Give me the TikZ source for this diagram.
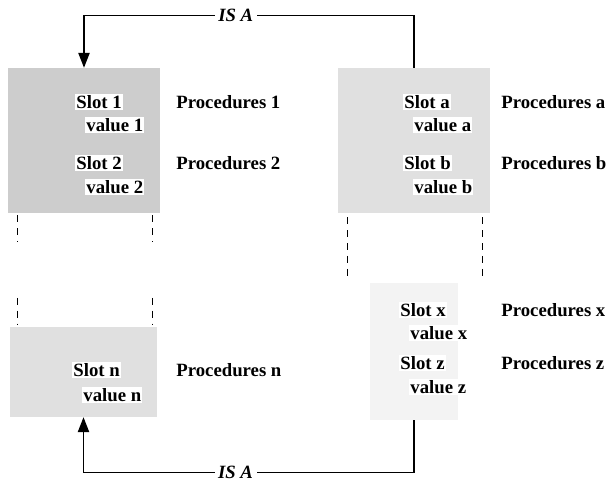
\documentclass[tikz,border=0pt]{standalone}
\usepackage{fontspec}
\setmainfont{Liberation Serif}
\usepackage{tikz}
\usetikzlibrary{arrows.meta,positioning,calc}
\definecolor{shadedark}{RGB}{205,205,205}
\definecolor{shademid}{RGB}{224,224,224}
\definecolor{shadelight}{RGB}{243,243,243}
\tikzset{
    frame/.style={
        rectangle,
        draw=none,
        inner sep=0pt
    },
    slottext/.style={
        anchor=west,
        fill=white,
        inner sep=1pt,
        font=\fontsize{16}{19}\selectfont\bfseries
    },
    proc/.style={
        anchor=west,
        inner sep=1pt,
        font=\fontsize{16}{19}\selectfont\bfseries
    },
    isa/.style={
        -{Triangle[length=4.5mm,width=3.4mm]},
        line width=1.2pt
    },
    ellipsis/.style={
        line width=1.2pt,
        dash pattern=on 6pt off 5pt
    }
}

\begin{document}
\begin{tikzpicture}[x=0.03cm,y=-0.03cm]
\useasboundingbox (0,0) rectangle (616,482);

% frame 1 (upper left)
\node[frame, fill=shadedark, minimum width=4.56cm, minimum height=4.35cm] (frame1) at (84,140.5) {};
\node[slottext] (slot1) at (75,102) {Slot 1};
\node[slottext] (val1) at (85,125) {value 1};
\node[slottext] (slot2) at (75,163) {Slot 2};
\node[slottext] (val2) at (85,187) {value 2};
\node[proc] (proc1) at (175,102) {Procedures 1};
\node[proc] (proc2) at (175,163) {Procedures 2};

% frame n (lower left)
\node[frame, fill=shademid, minimum width=4.41cm, minimum height=2.7cm] (framen) at (83.5,372) {};
\node[slottext] (slotn) at (72,370) {Slot n};
\node[slottext] (valn) at (82,395) {value n};
\node[proc] (procn) at (175,370) {Procedures n};

% frame a (upper right)
\node[frame, fill=shademid, minimum width=4.56cm, minimum height=4.35cm] (framea) at (414,140.5) {};
\node[slottext] (slota) at (403,102) {Slot a};
\node[slottext] (vala) at (413,125) {value a};
\node[slottext] (slotb) at (403,163) {Slot b};
\node[slottext] (valb) at (413,187) {value b};
\node[proc] (proca) at (500,102) {Procedures a};
\node[proc] (procb) at (500,163) {Procedures b};

% frame x (lower right)
\node[frame, fill=shadelight, minimum width=2.64cm, minimum height=4.11cm] (framex) at (414,351.5) {};
\node[slottext] (slotx) at (399,310) {Slot x};
\node[slottext] (valx) at (409,333) {value x};
\node[slottext] (slotz) at (399,363) {Slot z};
\node[slottext] (valz) at (409,387) {value z};
\node[proc] (procx) at (500,310) {Procedures x};
\node[proc] (procz) at (500,363) {Procedures z};

% omitted slots
\draw[ellipsis] ($(frame1.south west)+(10,2)$) -- ++(0,27);
\draw[ellipsis] ($(frame1.south east)+(-8,2)$) -- ++(0,27);
\draw[ellipsis] ($(framen.north west)+(8,-29)$) -- ++(0,27);
\draw[ellipsis] ($(framen.north east)+(-5,-29)$) -- ++(0,27);
\draw[ellipsis] ($(framea.south west)+(10,4)$) -- ++(0,60);
\draw[ellipsis] ($(framea.south east)+(-8,4)$) -- ++(0,60);

% IS A links
\draw[isa] (framea.north) -- ++(0,-52) -| node[pos=0.27, fill=white, inner sep=3pt, font=\fontsize{16}{19}\selectfont\bfseries\itshape] {IS A} (frame1.north);
\draw[isa] (framex.south) -- ++(0,52) -| node[pos=0.27, fill=white, inner sep=3pt, font=\fontsize{16}{19}\selectfont\bfseries\itshape] {IS A} (framen.south);
\end{tikzpicture}
\end{document}
